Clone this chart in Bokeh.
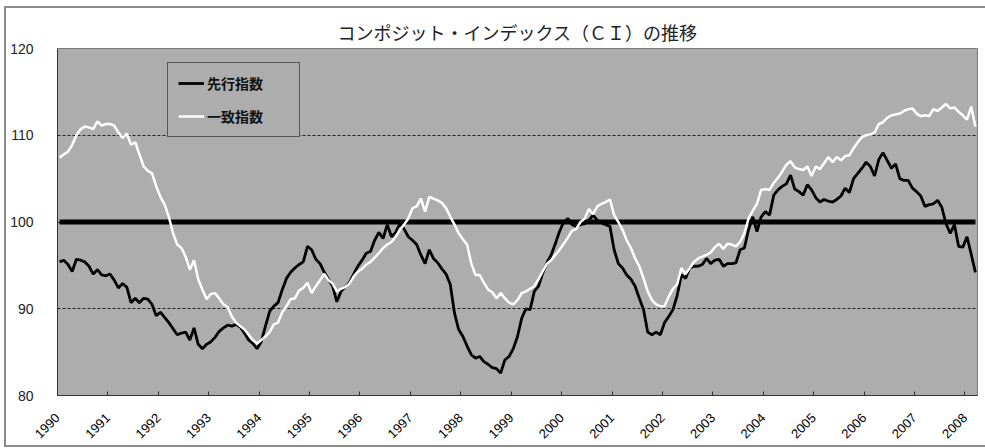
import math
from bokeh.plotting import figure
from bokeh.models import FixedTicker, Legend, LegendItem, Label, Range1d
from bokeh.embed import file_html
from bokeh.resources import INLINE

# ---- data (monthly, Jan 1990 - Mar 2008) ----
years = [str(y) for y in range(1990, 2009)]
year_unit = "(年"
title_text = "コンポジット・インデックス（ＣＩ）の推移"
series_names = ["先行指数", "一致指数"]
base_level = 100
y_ticks = [80, 90, 100, 110, 120]
grid_levels = [90, 100, 110]

leading = [
    95.4, 95.6, 95.1, 94.3, 95.7, 95.6, 95.4, 94.9, 94.0, 94.5,
    93.9, 93.8, 94.0, 93.3, 92.4, 92.9, 92.5, 90.7, 91.2, 90.7,
    91.2, 91.1, 90.5, 89.2, 89.6, 89.0, 88.4, 87.7, 87.0, 87.2,
    87.3, 86.4, 87.8, 85.9, 85.4, 85.9, 86.2, 86.7, 87.4, 87.8,
    88.1, 88.0, 88.2, 87.9, 87.2, 86.4, 86.0, 85.4, 86.2, 88.0,
    89.7, 90.3, 90.7, 92.2, 93.5, 94.2, 94.7, 95.1, 95.4, 97.2,
    96.8, 95.7, 95.2, 94.2, 93.4, 92.6, 90.8, 92.0, 92.5, 93.0,
    94.0, 94.9, 95.6, 96.4, 96.6, 97.9, 98.8, 98.1, 99.7, 98.3,
    98.8, 99.8, 99.2, 98.3, 97.9, 97.4, 96.2, 95.2, 96.8, 95.8,
    95.3, 94.6, 94.0, 92.8, 89.5, 87.6, 86.8, 85.7, 84.7, 84.3,
    84.5, 83.9, 83.6, 83.2, 83.1, 82.6, 84.1, 84.5, 85.4, 86.8,
    88.9, 90.0, 89.9, 92.0, 92.6, 94.1, 95.3, 96.2, 97.5, 98.9,
    100.0, 100.4, 99.7, 99.5, 99.7, 99.8, 100.2, 100.8, 100.2, 99.9,
    99.7, 99.5, 96.8, 95.2, 94.7, 93.9, 93.4, 92.6, 91.2, 89.9,
    87.3, 87.0, 87.3, 87.0, 88.4, 89.1, 89.9, 91.5, 93.9, 93.5,
    94.7, 94.9, 94.9, 95.1, 95.8, 95.2, 95.6, 95.7, 94.9, 95.2,
    95.2, 95.3, 96.8, 97.0, 99.1, 100.6, 98.9, 100.6, 101.2, 100.8,
    103.1, 103.7, 104.1, 104.4, 105.4, 103.8, 103.5, 103.1, 104.3, 103.7,
    102.8, 102.3, 102.6, 102.4, 102.3, 102.6, 103.0, 103.9, 103.4, 105.0,
    105.6, 106.2, 106.9, 106.4, 105.3, 107.2, 108.0, 107.1, 106.2, 106.7,
    105.0, 104.8, 104.8, 103.9, 103.5, 103.0, 101.8, 102.0, 102.1, 102.5,
    101.7, 99.8, 98.7, 99.7, 97.2, 97.1, 98.3, 96.3, 94.2,
]

coincident = [
    107.4, 107.8, 108.1, 108.9, 110.0, 110.7, 111.0, 110.9, 110.7, 111.6,
    111.1, 111.3, 111.3, 111.1, 110.3, 109.7, 110.2, 108.9, 109.2, 107.8,
    106.4, 105.9, 105.6, 104.1, 102.9, 102.0, 100.6, 98.7, 97.4, 97.0,
    96.0, 94.5, 95.6, 93.4, 92.2, 91.1, 91.7, 91.8, 91.2, 90.5,
    90.2, 89.1, 88.4, 88.0, 87.6, 87.0, 86.4, 86.0, 86.4, 86.8,
    87.3, 88.2, 88.4, 89.6, 90.3, 91.1, 91.2, 92.1, 92.4, 93.0,
    91.8, 92.6, 93.3, 94.0, 93.3, 92.9, 92.0, 92.3, 92.5, 92.9,
    93.7, 94.3, 94.6, 95.1, 95.4, 95.9, 96.4, 97.0, 97.4, 97.7,
    98.3, 99.1, 99.7, 100.4, 101.6, 101.8, 102.7, 101.2, 102.9, 102.7,
    102.5, 102.2, 101.6, 100.6, 99.7, 98.7, 98.0, 97.4, 95.2, 93.9,
    93.9, 93.0, 92.2, 91.9, 91.2, 91.8, 91.2, 90.7, 90.5, 91.0,
    91.8, 92.0, 92.3, 92.6, 93.4, 94.3, 95.2, 95.6, 96.2, 96.8,
    97.5, 98.2, 99.0, 99.2, 100.0, 100.4, 101.5, 100.9, 101.8, 102.1,
    102.3, 102.6, 100.8, 100.0, 99.1, 97.9, 97.0, 95.8, 94.9, 93.5,
    92.0, 91.0, 90.5, 90.3, 90.3, 91.4, 92.3, 92.8, 94.7, 94.0,
    94.7, 95.4, 95.8, 96.0, 96.2, 96.5, 97.1, 97.5, 96.9, 97.5,
    97.4, 97.2, 97.7, 98.7, 100.4, 101.3, 102.1, 103.7, 103.8, 103.7,
    104.5, 105.1, 105.8, 106.6, 107.0, 106.3, 106.1, 106.0, 106.4, 105.3,
    106.4, 106.1, 106.8, 107.5, 106.9, 107.5, 107.1, 107.6, 107.7, 108.5,
    109.2, 109.8, 110.0, 110.1, 110.3, 111.3, 111.5, 112.0, 112.3, 112.4,
    112.5, 112.8, 113.0, 113.1, 112.5, 112.2, 112.3, 112.2, 113.0, 112.8,
    113.2, 113.6, 113.1, 113.2, 112.7, 112.3, 111.8, 113.3, 111.0,
]

n = len(leading)
months = list(range(n))
year_ticks = [-0.5 + 12 * k for k in range(len(years))]

p = figure(
    width=985, height=448,
    output_backend="svg", toolbar_location=None,
    x_range=Range1d(-0.5, n - 0.5), y_range=Range1d(80, 120),
    min_border_left=57, min_border_right=8, min_border_top=48, min_border_bottom=53,
)
frame_col = "linear-gradient(#8c8c8c,#8c8c8c)"
p.styles = {
    "background-color": "white",
    "background-image": ", ".join([frame_col] * 3),
    "background-position": "4px 6px, 4px 6px, 4px 445px",
    "background-size": "2px 441px, 990px 2px, 990px 2px",
    "background-repeat": "no-repeat",
}

p.background_fill_color = "#ADADAD"
p.border_fill_color = None
p.outline_line_color = "#7a7a7a"
p.outline_line_width = 1

p.title.text = title_text
p.title.align = "center"
p.title.offset = -23
p.title.text_font = "Noto Sans CJK JP"
p.title.text_font_style = "normal"
p.title.text_font_size = "18px"
p.title.text_color = "#222222"
p.title.standoff = 8

# axes
p.yaxis.ticker = FixedTicker(ticks=y_ticks)
p.yaxis.major_tick_line_color = None
p.yaxis.minor_tick_line_color = None
p.yaxis.major_label_standoff = 18
p.yaxis.major_label_text_font = "Liberation Sans"
p.yaxis.major_label_text_font_size = "14px"
p.yaxis.major_label_text_color = "#222222"
p.yaxis.axis_line_color = "#333333"

p.xaxis.ticker = FixedTicker(ticks=year_ticks)
p.xaxis.major_label_overrides = {t: y for t, y in zip(year_ticks, years)}
p.xaxis.major_label_orientation = math.pi / 4
p.xaxis.major_tick_in = 4
p.xaxis.major_tick_out = 0
p.xaxis.minor_tick_line_color = None
p.xaxis.major_label_standoff = 20
p.xaxis.major_label_text_font = "Liberation Sans"
p.xaxis.major_label_text_font_size = "13px"
p.xaxis.major_label_text_color = "#000000"
p.xaxis.axis_line_color = "#333333"
p.xaxis.major_tick_line_color = "#333333"

p.xgrid.grid_line_color = None
p.ygrid.ticker = FixedTicker(ticks=grid_levels)
p.ygrid.grid_line_color = "#222222"
p.ygrid.grid_line_dash = "3 2"
p.ygrid.grid_line_width = 1

# base line at 100
p.line(months, [base_level] * n, line_color="black", line_width=5)

r_lead = p.line(months, leading, line_color="black", line_width=2.8)
r_coin = p.line(months, coincident, line_color="white", line_width=2.5)

legend = Legend(
    items=[LegendItem(label=series_names[0], renderers=[r_lead]),
           LegendItem(label=series_names[1], renderers=[r_coin])],
    location=(110, 258),
)
legend.background_fill_color = "#ADADAD"
legend.background_fill_alpha = 1
legend.border_line_color = "black"
legend.border_line_width = 1.5
legend.label_text_font = "Noto Sans CJK JP"
legend.label_text_font_style = "bold"
legend.label_text_font_size = "14px"
legend.label_text_color = "#111111"
legend.glyph_width = 26
legend.glyph_height = 20
legend.spacing = 13
legend.padding = 10
legend.label_standoff = 3
legend.label_width = 82
p.add_layout(legend)

unit_label = Label(x=n - 3.4, y=76.8, text=year_unit, text_font="Noto Sans CJK JP",
                   text_font_size="14px", text_color="#222222",
                   text_baseline="middle", text_align="left", level="overlay")
p.add_layout(unit_label)

open("out.html", "w").write(file_html(p, INLINE))
